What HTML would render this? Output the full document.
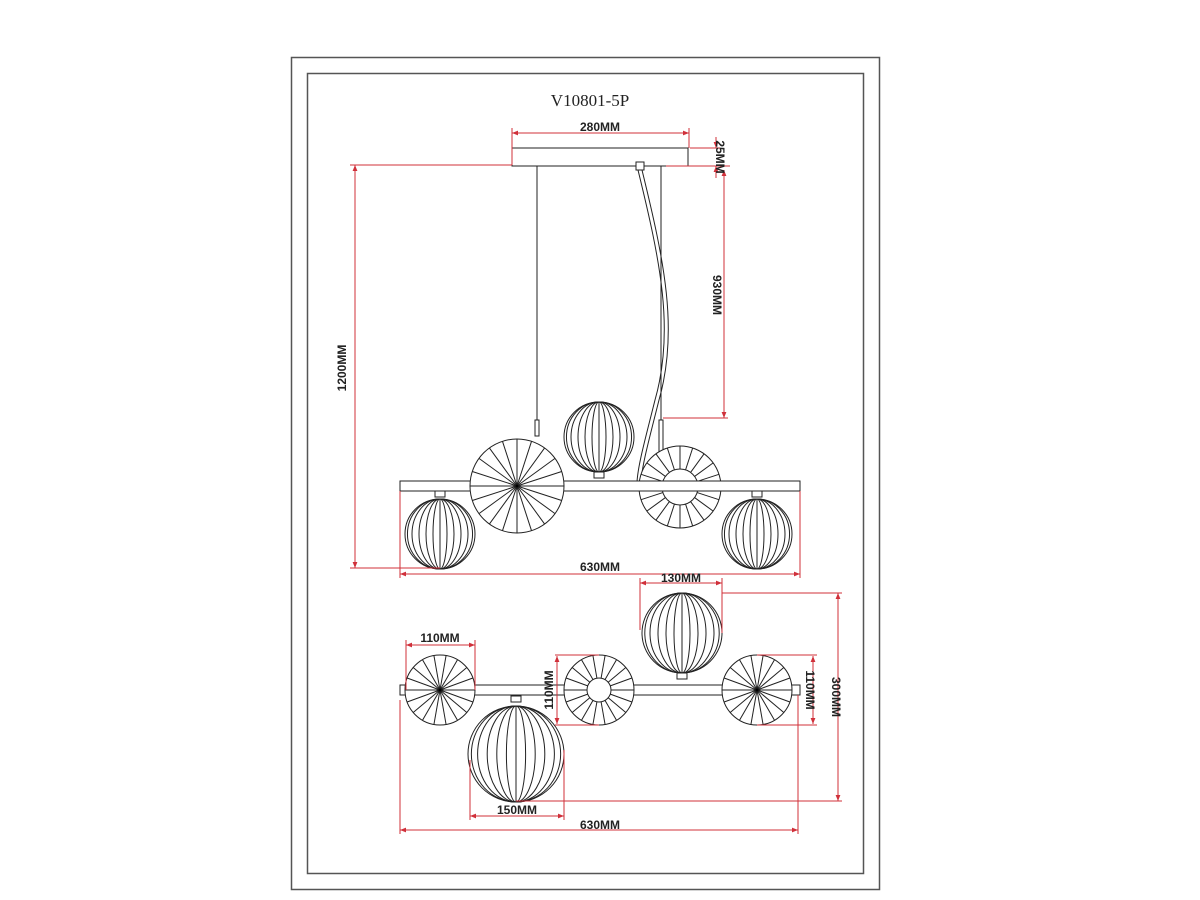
<!DOCTYPE html>
<html><head><meta charset="utf-8"><style>
html,body{margin:0;padding:0;background:#fff;width:1200px;height:900px;overflow:hidden}
svg{display:block}
text{font-family:"Liberation Sans",sans-serif;font-weight:bold;font-size:12px;fill:#222}
</style></head><body>
<svg id="s" width="1200" height="900" viewBox="0 0 1200 900" xmlns="http://www.w3.org/2000/svg">
<defs>
<marker id="a" viewBox="0 0 10 10" refX="10" refY="5" markerWidth="9" markerHeight="6" orient="auto-start-reverse"><path d="M0,1 L10,5 L0,9z" fill="#d0303a"/></marker>
</defs>
<rect x="291.5" y="57.5" width="588" height="832" fill="none" stroke="#555" stroke-width="1.5"/>
<rect x="307.5" y="73.5" width="556" height="800" fill="none" stroke="#555" stroke-width="1.5"/>
<text x="590" y="106" text-anchor="middle" style="font-family:'Liberation Serif',serif;font-weight:normal;font-size:17px">V10801-5P</text>
<g id="draw" fill="none" stroke="#222" stroke-width="1"></g>
<g id="dim" fill="none" stroke="#d0303a" stroke-width="1"></g>
<text x="600" y="131" text-anchor="middle">280MM</text>
<text x="600" y="571" text-anchor="middle">630MM</text>
<text x="681" y="582" text-anchor="middle">130MM</text>
<text x="440" y="642" text-anchor="middle">110MM</text>
<text x="517" y="814" text-anchor="middle">150MM</text>
<text x="600" y="829" text-anchor="middle">630MM</text>
<text transform="translate(716,157) rotate(90)" text-anchor="middle">25MM</text>
<text transform="translate(713,295) rotate(90)" text-anchor="middle">930MM</text>
<text transform="translate(346,368) rotate(-90)" text-anchor="middle">1200MM</text>
<text transform="translate(553,690) rotate(-90)" text-anchor="middle">110MM</text>
<text transform="translate(806,690) rotate(90)" text-anchor="middle">110MM</text>
<text transform="translate(832,697) rotate(90)" text-anchor="middle">300MM</text>
</svg>
<script>
var NS="http://www.w3.org/2000/svg",D=document.getElementById('draw'),M=document.getElementById('dim');
function el(p,t,a){var e=document.createElementNS(NS,t);for(var k in a)e.setAttribute(k,a[k]);p.appendChild(e);return e;}
function L(p,x1,y1,x2,y2,ex){var a={x1:x1,y1:y1,x2:x2,y2:y2};if(ex)for(var k in ex)a[k]=ex[k];return el(p,'line',a);}
function dim(x1,y1,x2,y2){L(M,x1,y1,x2,y2,{'marker-start':'url(#a)','marker-end':'url(#a)'});}
function globe(cx,cy,r){el(D,'circle',{cx:cx,cy:cy,r:r,fill:'#fff'});
 L(D,cx,cy-r,cx,cy+r);
 [0.2,0.4,0.6,0.8,0.93].forEach(function(k){el(D,'ellipse',{cx:cx,cy:cy,rx:k*r,ry:r});});
}
function disc(cx,cy,r,n,inner){el(D,'circle',{cx:cx,cy:cy,r:r,fill:'#fff'});
 for(var i=0;i<n;i++){var a=i*2*Math.PI/n;L(D,cx+Math.cos(a)*(inner||0),cy+Math.sin(a)*(inner||0),cx+Math.cos(a)*r,cy+Math.sin(a)*r);}
 if(inner)el(D,'circle',{cx:cx,cy:cy,r:inner,fill:'#fff'});else el(D,'circle',{cx:cx,cy:cy,r:2,fill:'#000'});}
function cap(x,y){el(D,'rect',{x:x-5,y:y,width:10,height:6,fill:'#fff'});}
// front view
el(D,'rect',{x:512,y:148,width:176,height:18,fill:'#fff'});
L(D,537,166,537,420);L(D,661,166,661,420);
el(D,'rect',{x:535,y:420,width:4,height:16,fill:'#fff'});
el(D,'rect',{x:659,y:420,width:4,height:62,fill:'#fff'});
el(D,'path',{d:'M638,170 C660,260 675,330 655,400 C645,440 638,465 637,482'});
el(D,'path',{d:'M642,170 C664,260 679,330 659,400 C649,440 642,465 641,482'});
el(D,'rect',{x:636,y:162,width:8,height:8,fill:'#fff'});
globe(599,437,35);cap(599,472);
disc(680,487,41,20,18);
el(D,'rect',{x:400,y:481,width:400,height:10,fill:'#fff'});
disc(517,486,47,20,0);
cap(440,491);globe(440,534,35);
cap(757,491);globe(757,534,35);
// top view
globe(682,633,40);cap(682,673);
el(D,'rect',{x:400,y:685,width:400,height:10,fill:'#fff'});
disc(440,690,35,18,0);disc(599,690,35,18,12);disc(757,690,35,18,0);
cap(516,696);globe(516,754,48);
// dims
L(M,512,128,512,165);L(M,689,128,689,148);dim(512,133,689,133);
L(M,690,148,720,148);L(M,666,166,730,166);
L(M,716,137,716,148,{'marker-end':'url(#a)'});L(M,716,178,716,166,{'marker-end':'url(#a)'});
dim(724,170,724,418);L(M,663,418,728,418);
L(M,350,165,512,165);L(M,350,568,440,568);dim(355,165,355,568);
L(M,400,491,400,578);L(M,800,491,800,578);dim(400,574,800,574);
L(M,640,578,640,630);L(M,722,578,722,633);dim(640,583,722,583);
L(M,722,593,842,593);L(M,516,801,842,801);dim(838,593,838,801);
L(M,406,640,406,690);L(M,475,640,475,690);dim(406,645,475,645);
L(M,555,655,599,655);L(M,555,725,599,725);dim(557,656,557,724);
L(M,757,655,817,655);L(M,757,725,817,725);dim(813,656,813,724);
L(M,470,760,470,820);L(M,564,750,564,820);dim(470,816,564,816);
L(M,400,700,400,834);L(M,798,695,798,834);dim(400,830,798,830);
</script>
</body></html>
